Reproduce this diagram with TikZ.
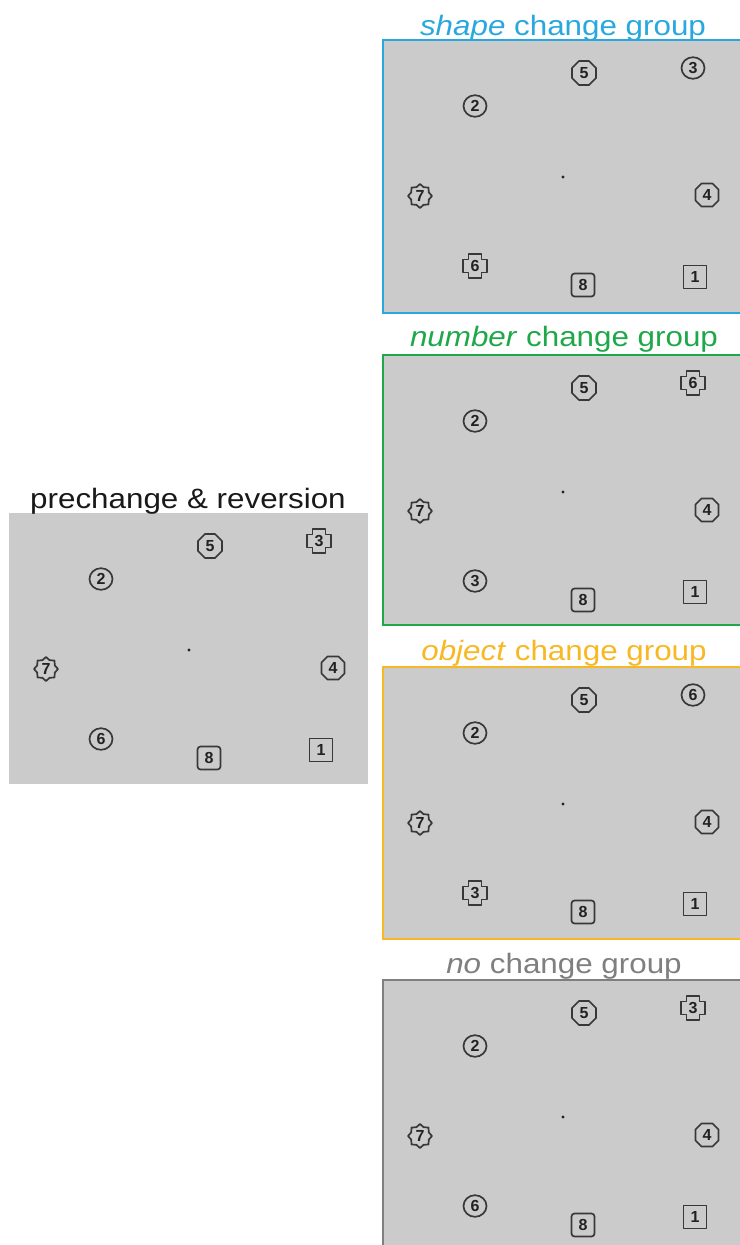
\documentclass[tikz,border=0pt]{standalone}
\usepackage{graphicx}
\usepackage{fontspec}
\setmainfont{Liberation Sans}
\definecolor{panelgray}{HTML}{CBCBCB}
\definecolor{cblue}{HTML}{29A8E0}
\definecolor{cgreen}{HTML}{1FA84A}
\definecolor{cgold}{HTML}{F8B824}
\definecolor{cgray}{HTML}{7F7F7F}
\definecolor{ink}{HTML}{222222}
\tikzset{
  obj/.style={line width=1.7pt, draw=ink!90, line join=round},
  num/.style={font=\bfseries\fontsize{16}{16}\selectfont, text=ink, inner sep=0pt},
  title/.style={anchor=base, font=\fontsize{28}{28}\selectfont},
  panel/.style={fill=panelgray, line width=2pt},
  pics/circ/.style={code={\draw[obj] (0,0) ellipse [x radius=11.5, y radius=10.8]; \node[num] (-n) {#1};}},
  pics/sq/.style={code={\draw[obj] (-11.5,-11.5) rectangle (11.5,11.5); \node[num] (-n) {#1};}},
  pics/rsq/.style={code={\draw[obj, rounded corners=3] (-11.5,-11.5) rectangle (11.5,11.5); \node[num] (-n) {#1};}},
  pics/chamf/.style={code={\draw[obj] (-11.5,-5.5) -- (-5.5,-11.5) -- (5.5,-11.5) -- (11.5,-5.5) -- (11.5,5.5) -- (5.5,11.5) -- (-5.5,11.5) -- (-11.5,5.5) -- cycle; \node[num] (-n) {#1};}},
  pics/oct/.style={code={\draw[obj] (22.5:13) \foreach \a in {67.5,112.5,...,337.5} { -- (\a:13) } -- cycle; \node[num] (-n) {#1};}},
  pics/cross/.style={code={\draw[obj] (-12,-6.5) -- (-6.5,-6.5) -- (-6.5,-12) -- (6.5,-12) -- (6.5,-6.5) -- (12,-6.5) -- (12,6.5) -- (6.5,6.5) -- (6.5,12) -- (-6.5,12) -- (-6.5,6.5) -- (-12,6.5) -- cycle; \node[num] (-n) {#1};}},
  pics/starb/.style={code={\draw[obj] (0:12) \foreach \i in {1,...,15} { -- ({\i*22.5}:{10.75+1.25*cos(\i*180)}) } -- cycle; \node[num] (-n) {#1};}},
}
\newcommand\drawobjects[3]{%
  \pic (#1o1) at (312,237) {sq=1};
  \pic (#1o2) at (92,66) {circ=2};
  \pic (#1o3) at (310,28) {#2};
  \pic (#1o4) at (324,155) {chamf=4};
  \pic (#1o5) at (201,33) {oct=5};
  \pic (#1o6) at (92,226) {#3};
  \pic (#1o7) at (37,156) {starb=7};
  \pic (#1o8) at (200,245) {rsq=8};
  \fill[ink] (180,137) circle[radius=1.6];
}
\begin{document}
\begin{tikzpicture}[x=1pt,y=-1pt]
\useasboundingbox (0,0) rectangle (739,1245);
% left panel
\fill[panelgray] (9,513) rectangle (368,784);
\node[title, text=black!90] (tpre) at (188,508) {\scalebox{1.12}[1]{prechange \& reversion}};
\begin{scope}[shift={(9,513)}]
  \drawobjects{p}{cross=3}{circ=6}
\end{scope}
% shape change
\draw[panel, draw=cblue] (383,40) rectangle (770,313);
\node[title, text=cblue] (tshape) at (563,35) {\scalebox{1.12}[1]{\textit{shape} change group}};
\begin{scope}[shift={(383,40)}]
  \drawobjects{s}{circ=3}{cross=6}
\end{scope}
% number change
\draw[panel, draw=cgreen] (383,355) rectangle (770,625);
\node[title, text=cgreen] (tnum) at (564,346) {\scalebox{1.12}[1]{\textit{number} change group}};
\begin{scope}[shift={(383,355)}]
  \drawobjects{n}{cross=6}{circ=3}
\end{scope}
% object change
\draw[panel, draw=cgold] (383,667) rectangle (770,939);
\node[title, text=cgold] (tobj) at (564,660) {\scalebox{1.12}[1]{\textit{object} change group}};
\begin{scope}[shift={(383,667)}]
  \drawobjects{o}{circ=6}{cross=3}
\end{scope}
% no change
\draw[panel, draw=cgray] (383,980) rectangle (770,1260);
\node[title, text=cgray] (tno) at (564,973) {\scalebox{1.12}[1]{\textit{no} change group}};
\begin{scope}[shift={(383,980)}]
  \drawobjects{c}{cross=3}{circ=6}
\end{scope}
\end{tikzpicture}
\end{document}
